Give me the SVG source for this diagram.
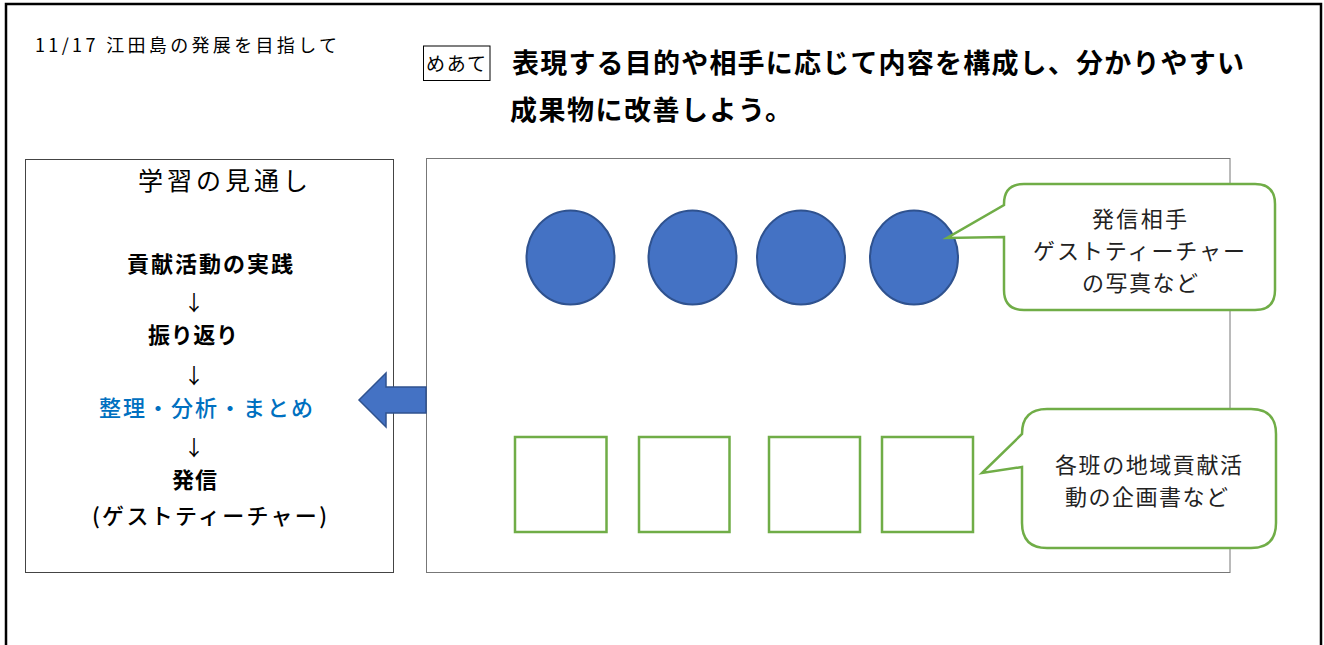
<svg xmlns="http://www.w3.org/2000/svg" width="1324" height="645" viewBox="0 0 1324 645">
<style>
.t{font-family:"Noto Sans CJK JP","Noto Sans",sans-serif;fill:#000}
.m{font-family:"Noto Sans CJK JP","Noto Sans",sans-serif;fill:#222;font-size:22px;font-weight:normal}
.c{fill:#4472C4;stroke:#2F528F;stroke-width:2}
.s{fill:#fff;stroke:#70AD47;stroke-width:2.5}
</style>
<rect width="1324" height="645" fill="#fff"/>
<path d="M6,650 V4 H1321 V650" fill="none" stroke="#000" stroke-width="2.5"/>
<g id="header">
<text class="t" x="35" y="52" font-size="18" textLength="302" lengthAdjust="spacing">11/17 江田島の発展を目指して</text>
<rect x="423.5" y="46" width="66.5" height="34.5" fill="#fff" stroke="#000" stroke-width="1"/>
<text class="t" x="426" y="71" font-size="19" textLength="60" lengthAdjust="spacing">めあて</text>
<text class="t" x="512" y="73" font-size="27" font-weight="bold" textLength="732" lengthAdjust="spacing">表現する目的や相手に応じて内容を構成し、分かりやすい</text>
<text class="t" x="510" y="120" font-size="27" font-weight="bold" textLength="282" lengthAdjust="spacing">成果物に改善しよう。</text>
</g>
<g id="outlook">
<rect x="25.5" y="159.5" width="368" height="413" fill="#fff" stroke="#444" stroke-width="1"/>
<text class="t" x="138" y="190" font-size="25" textLength="170" lengthAdjust="spacing">学習の見通し</text>
<text class="t" x="127" y="272" font-size="22" font-weight="bold" textLength="166" lengthAdjust="spacing">貢献活動の実践</text>
<text class="t" x="194" y="310" font-size="21" text-anchor="middle">↓</text>
<text class="t" x="148" y="343" font-size="22" font-weight="bold" textLength="90" lengthAdjust="spacing">振り返り</text>
<text class="t" x="194" y="383" font-size="21" text-anchor="middle">↓</text>
<text class="t" x="99" y="416" font-size="22" font-weight="500" style="fill:#0070C0" textLength="214" lengthAdjust="spacing">整理・分析・まとめ</text>
<text class="t" x="194" y="455" font-size="21" text-anchor="middle">↓</text>
<text class="t" x="172" y="488" font-size="22" font-weight="bold" textLength="45" lengthAdjust="spacing">発信</text>
<text class="t" x="92" y="524" font-size="22" font-weight="500" textLength="235" lengthAdjust="spacing">(ゲストティーチャー)</text>
</g>
<g id="board">
<rect x="426.5" y="158.5" width="803.5" height="414" fill="#fff" stroke="#777" stroke-width="1"/>
</g>
<g id="photos">
<ellipse class="c" cx="570.5" cy="257.5" rx="44" ry="47"/>
<ellipse class="c" cx="692.5" cy="257.5" rx="44" ry="47"/>
<ellipse class="c" cx="801" cy="257.5" rx="44" ry="47"/>
<ellipse class="c" cx="914" cy="257.5" rx="44" ry="47"/>
</g>
<g id="plans">
<rect class="s" x="515" y="437" width="91.5" height="95"/>
<rect class="s" x="639" y="437" width="90.5" height="95"/>
<rect class="s" x="769" y="437" width="91" height="95"/>
<rect class="s" x="882" y="437" width="91" height="95"/>
</g>
<g id="callout-photos">
<path class="s" d="M1024,184 H1255 Q1275,184 1275,204 V290 Q1275,310 1255,310 H1024 Q1004,310 1004,290 V237 L947,238 L1004,205 V204 Q1004,184 1024,184 Z"/>
<text class="m" x="1092" y="227" textLength="95" lengthAdjust="spacing">発信相手</text>
<text class="m" x="1033" y="259" textLength="212" lengthAdjust="spacing">ゲストティーチャー</text>
<text class="m" x="1082" y="291" textLength="116" lengthAdjust="spacing">の写真など</text>
</g>
<g id="callout-plans">
<path class="s" d="M1047,409 H1251 Q1276,409 1276,434 V523 Q1276,548 1251,548 H1047 Q1022,548 1022,523 V467 L982,473 L1022,434 Q1022,409 1047,409 Z"/>
<text class="m" x="1055" y="473" textLength="187" lengthAdjust="spacing">各班の地域貢献活</text>
<text class="m" x="1065" y="505" textLength="163" lengthAdjust="spacing">動の企画書など</text>
</g>
<g id="connectors">
<path d="M426,387 H386 V373 L359,400 L386,427 V413 H426 Z" fill="#4472C4" stroke="#2F528F" stroke-width="1.5"/>
</g>
</svg>
